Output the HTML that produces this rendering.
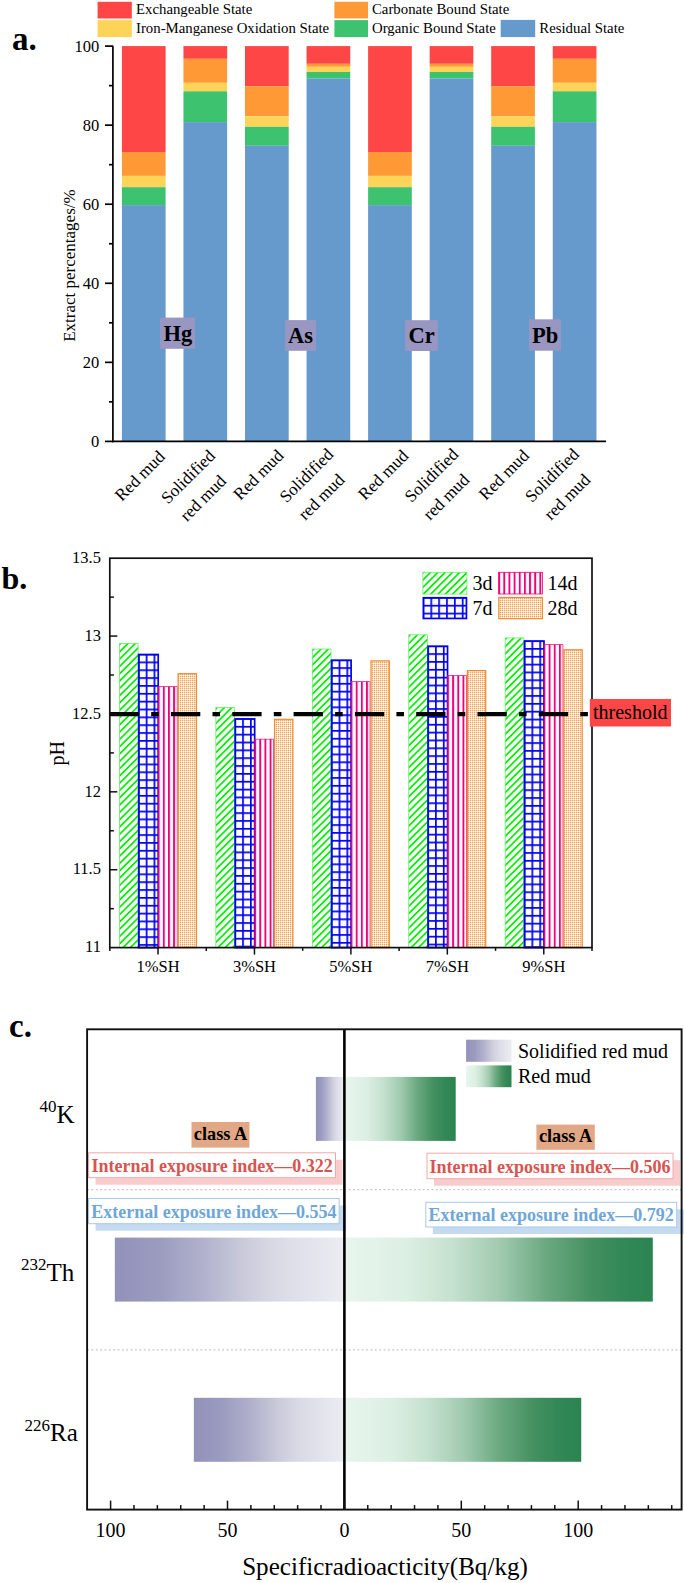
<!DOCTYPE html>
<html><head><meta charset="utf-8"><style>
html,body{margin:0;padding:0;background:#fff;}
svg{display:block;font-family:"Liberation Serif", serif;}
</style></head><body>
<svg width="685" height="1583" viewBox="0 0 685 1583" font-family='"Liberation Serif", serif'>
<rect width="685" height="1583" fill="#fff"/>
<defs>
<linearGradient id="gs" x1="0" x2="1" y1="0" y2="0"><stop offset="0" stop-color="#9292ba"/><stop offset="0.2" stop-color="#9c9cc0"/><stop offset="0.4" stop-color="#b3b3ce"/><stop offset="0.55" stop-color="#c9c9da"/><stop offset="0.7" stop-color="#dadae6"/><stop offset="1" stop-color="#ececf2"/></linearGradient>
<linearGradient id="gr" x1="0" x2="1" y1="0" y2="0"><stop offset="0" stop-color="#e8f6ee"/><stop offset="0.2" stop-color="#dcefe3"/><stop offset="0.35" stop-color="#c5e1cf"/><stop offset="0.5" stop-color="#a2cbb0"/><stop offset="0.65" stop-color="#6caa82"/><stop offset="0.8" stop-color="#44905f"/><stop offset="0.9" stop-color="#338857"/><stop offset="1" stop-color="#2a8450"/></linearGradient>
</defs>
<rect x="97.6" y="1.8" width="34.2" height="16.7" fill="#fe4646"/>
<rect x="97.6" y="20.1" width="34.2" height="17" fill="#fed458"/>
<rect x="334.4" y="1.8" width="33.6" height="16.6" fill="#fe9935"/>
<rect x="334.4" y="20.1" width="33.6" height="17" fill="#3dc370"/>
<rect x="500.7" y="19.9" width="34.5" height="17.2" fill="#6699cc"/>
<text x="136" y="14.4" font-size="14.8">Exchangeable State</text>
<text x="136" y="32.9" font-size="14.8">Iron-Manganese Oxidation State</text>
<text x="372" y="14.2" font-size="14.8">Carbonate Bound State</text>
<text x="372" y="32.9" font-size="14.8">Organic Bound State</text>
<text x="539.3" y="32.9" font-size="14.8">Residual State</text>
<text x="12" y="50.4" font-size="33" font-weight="bold">a.</text>
<rect x="121.90" y="46.10" width="43.7" height="105.90" fill="#fe4646"/>
<rect x="121.90" y="152.00" width="43.7" height="23.90" fill="#fe9935"/>
<rect x="121.90" y="175.90" width="43.7" height="11.30" fill="#fed458"/>
<rect x="121.90" y="187.20" width="43.7" height="17.90" fill="#3dc370"/>
<rect x="121.90" y="205.10" width="43.7" height="236.30" fill="#6699cc"/>
<rect x="183.45" y="46.10" width="43.7" height="12.70" fill="#fe4646"/>
<rect x="183.45" y="58.80" width="43.7" height="24.00" fill="#fe9935"/>
<rect x="183.45" y="82.80" width="43.7" height="8.50" fill="#fed458"/>
<rect x="183.45" y="91.30" width="43.7" height="30.80" fill="#3dc370"/>
<rect x="183.45" y="122.10" width="43.7" height="319.30" fill="#6699cc"/>
<rect x="245.00" y="46.10" width="43.7" height="40.10" fill="#fe4646"/>
<rect x="245.00" y="86.20" width="43.7" height="30.10" fill="#fe9935"/>
<rect x="245.00" y="116.30" width="43.7" height="10.50" fill="#fed458"/>
<rect x="245.00" y="126.80" width="43.7" height="19.00" fill="#3dc370"/>
<rect x="245.00" y="145.80" width="43.7" height="295.60" fill="#6699cc"/>
<rect x="306.55" y="46.10" width="43.7" height="17.70" fill="#fe4646"/>
<rect x="306.55" y="63.80" width="43.7" height="3.00" fill="#fe9935"/>
<rect x="306.55" y="66.80" width="43.7" height="5.20" fill="#fed458"/>
<rect x="306.55" y="72.00" width="43.7" height="6.50" fill="#3dc370"/>
<rect x="306.55" y="78.50" width="43.7" height="362.90" fill="#6699cc"/>
<rect x="368.10" y="46.10" width="43.7" height="105.90" fill="#fe4646"/>
<rect x="368.10" y="152.00" width="43.7" height="23.90" fill="#fe9935"/>
<rect x="368.10" y="175.90" width="43.7" height="11.30" fill="#fed458"/>
<rect x="368.10" y="187.20" width="43.7" height="17.90" fill="#3dc370"/>
<rect x="368.10" y="205.10" width="43.7" height="236.30" fill="#6699cc"/>
<rect x="429.65" y="46.10" width="43.7" height="17.70" fill="#fe4646"/>
<rect x="429.65" y="63.80" width="43.7" height="3.00" fill="#fe9935"/>
<rect x="429.65" y="66.80" width="43.7" height="5.20" fill="#fed458"/>
<rect x="429.65" y="72.00" width="43.7" height="6.50" fill="#3dc370"/>
<rect x="429.65" y="78.50" width="43.7" height="362.90" fill="#6699cc"/>
<rect x="491.20" y="46.10" width="43.7" height="40.10" fill="#fe4646"/>
<rect x="491.20" y="86.20" width="43.7" height="30.10" fill="#fe9935"/>
<rect x="491.20" y="116.30" width="43.7" height="10.50" fill="#fed458"/>
<rect x="491.20" y="126.80" width="43.7" height="19.00" fill="#3dc370"/>
<rect x="491.20" y="145.80" width="43.7" height="295.60" fill="#6699cc"/>
<rect x="552.75" y="46.10" width="43.7" height="12.70" fill="#fe4646"/>
<rect x="552.75" y="58.80" width="43.7" height="24.00" fill="#fe9935"/>
<rect x="552.75" y="82.80" width="43.7" height="8.50" fill="#fed458"/>
<rect x="552.75" y="91.30" width="43.7" height="30.80" fill="#3dc370"/>
<rect x="552.75" y="122.10" width="43.7" height="319.30" fill="#6699cc"/>
<g stroke="#000" stroke-width="1.7" fill="none">
<line x1="112.9" y1="45.7" x2="112.9" y2="442.25"/>
<line x1="112" y1="441.4" x2="606" y2="441.4"/>
<line x1="105" y1="441.40" x2="112.9" y2="441.40"/>
<line x1="109" y1="401.87" x2="112.9" y2="401.87"/>
<line x1="105" y1="362.34" x2="112.9" y2="362.34"/>
<line x1="109" y1="322.81" x2="112.9" y2="322.81"/>
<line x1="105" y1="283.28" x2="112.9" y2="283.28"/>
<line x1="109" y1="243.75" x2="112.9" y2="243.75"/>
<line x1="105" y1="204.22" x2="112.9" y2="204.22"/>
<line x1="109" y1="164.69" x2="112.9" y2="164.69"/>
<line x1="105" y1="125.16" x2="112.9" y2="125.16"/>
<line x1="109" y1="85.63" x2="112.9" y2="85.63"/>
<line x1="105" y1="46.10" x2="112.9" y2="46.10"/>
</g>
<text x="99.2" y="447.00" font-size="16.5" text-anchor="end">0</text>
<text x="99.2" y="367.94" font-size="16.5" text-anchor="end">20</text>
<text x="99.2" y="288.88" font-size="16.5" text-anchor="end">40</text>
<text x="99.2" y="209.82" font-size="16.5" text-anchor="end">60</text>
<text x="99.2" y="130.76" font-size="16.5" text-anchor="end">80</text>
<text x="99.2" y="51.70" font-size="16.5" text-anchor="end">100</text>
<text transform="translate(74.7,265.6) rotate(-90)" font-size="17" text-anchor="middle">Extract percentages/%</text>
<rect x="160.1" y="317.6" width="35.0" height="31.2" fill="#9997c1"/>
<text x="177.8" y="340.8" font-size="22.5" font-weight="bold" text-anchor="middle">Hg</text>
<rect x="285" y="320.1" width="30.9" height="30.7" fill="#9997c1"/>
<text x="300.6" y="342.8" font-size="22.5" font-weight="bold" text-anchor="middle">As</text>
<rect x="405.1" y="320.2" width="32.6" height="30.8" fill="#9997c1"/>
<text x="421.6" y="343.0" font-size="22.5" font-weight="bold" text-anchor="middle">Cr</text>
<rect x="529" y="319.3" width="31.9" height="31.4" fill="#9997c1"/>
<text x="545.2" y="342.7" font-size="22.5" font-weight="bold" text-anchor="middle">Pb</text>
<text transform="translate(143.8,479.9) rotate(-45)" font-size="17.2" text-anchor="middle">Red mud</text>
<text transform="translate(262.4,478.8) rotate(-45)" font-size="17.2" text-anchor="middle">Red mud</text>
<text transform="translate(387.2,479.0) rotate(-45)" font-size="17.2" text-anchor="middle">Red mud</text>
<text transform="translate(507.9,478.8) rotate(-45)" font-size="17.2" text-anchor="middle">Red mud</text>
<text transform="translate(192.0,480.9) rotate(-45)" font-size="17.2" text-anchor="middle">Solidified</text>
<text transform="translate(310.4,479.5) rotate(-45)" font-size="17.2" text-anchor="middle">Solidified</text>
<text transform="translate(435.4,479.4) rotate(-45)" font-size="17.2" text-anchor="middle">Solidified</text>
<text transform="translate(556.0,479.3) rotate(-45)" font-size="17.2" text-anchor="middle">Solidified</text>
<text transform="translate(207.0,502.2) rotate(-45)" font-size="17.2" text-anchor="middle">red mud</text>
<text transform="translate(325.4,501.0) rotate(-45)" font-size="17.2" text-anchor="middle">red mud</text>
<text transform="translate(450.2,501.0) rotate(-45)" font-size="17.2" text-anchor="middle">red mud</text>
<text transform="translate(571.2,501.0) rotate(-45)" font-size="17.2" text-anchor="middle">red mud</text>
<defs><pattern id="p1" patternUnits="userSpaceOnUse" x="119.01999999999998" y="643.9" width="5.16" height="5.16" patternTransform="rotate(45 119.01999999999998 643.9)"><rect width="5.16" height="5.16" fill="#fff"/><rect x="0" y="0" width="1.75" height="5.16" fill="#00f000"/></pattern></defs>
<rect x="119.42" y="643.30" width="18.70" height="304.30" fill="url(#p1)" stroke="#66ee66" stroke-width="0.8"/>
<defs><pattern id="p2" patternUnits="userSpaceOnUse" x="137.86999999999998" y="653.65" width="7.85" height="7.85"><rect width="7.85" height="7.85" fill="#fff"/><rect width="7.85" height="1.7" fill="#0000f0"/><rect width="1.7" height="7.85" fill="#0000f0"/></pattern></defs>
<rect x="138.72" y="654.5" width="19.50" height="293.10" fill="url(#p2)" stroke="#0000f0" stroke-width="1.7"/>
<defs><pattern id="p3" patternUnits="userSpaceOnUse" x="157.71999999999997" y="686.3" width="5.15" height="10"><rect width="5.15" height="10" fill="#fff"/><rect width="1.9" height="10" fill="#f0007a"/></pattern></defs>
<rect x="158.37" y="686.65" width="18.80" height="260.95" fill="url(#p3)" stroke="#f0007a" stroke-width="0.7"/>
<defs><pattern id="p4" patternUnits="userSpaceOnUse" x="0" y="0" width="2" height="2"><rect width="2" height="2" fill="#fffaf5"/><rect width="2" height="1" fill="#fbdcbc"/><rect width="1" height="2" fill="#fbdcbc"/><rect width="1" height="1" fill="#f0a050"/></pattern></defs>
<rect x="178.12" y="673.70" width="18.30" height="273.90" fill="url(#p4)" stroke="#f08a30" stroke-width="1.2"/>
<defs><pattern id="p5" patternUnits="userSpaceOnUse" x="215.45999999999998" y="708.0" width="5.16" height="5.16" patternTransform="rotate(45 215.45999999999998 708.0)"><rect width="5.16" height="5.16" fill="#fff"/><rect x="0" y="0" width="1.75" height="5.16" fill="#00f000"/></pattern></defs>
<rect x="215.86" y="707.40" width="18.70" height="240.20" fill="url(#p5)" stroke="#66ee66" stroke-width="0.8"/>
<defs><pattern id="p6" patternUnits="userSpaceOnUse" x="234.30999999999997" y="718.0500000000001" width="7.85" height="7.85"><rect width="7.85" height="7.85" fill="#fff"/><rect width="7.85" height="1.7" fill="#0000f0"/><rect width="1.7" height="7.85" fill="#0000f0"/></pattern></defs>
<rect x="235.16" y="718.9000000000001" width="19.50" height="228.70" fill="url(#p6)" stroke="#0000f0" stroke-width="1.7"/>
<defs><pattern id="p7" patternUnits="userSpaceOnUse" x="254.15999999999997" y="738.8" width="5.15" height="10"><rect width="5.15" height="10" fill="#fff"/><rect width="1.9" height="10" fill="#f0007a"/></pattern></defs>
<rect x="254.81" y="739.15" width="18.80" height="208.45" fill="url(#p7)" stroke="#f0007a" stroke-width="0.7"/>
<defs><pattern id="p8" patternUnits="userSpaceOnUse" x="0" y="0" width="2" height="2"><rect width="2" height="2" fill="#fffaf5"/><rect width="2" height="1" fill="#fbdcbc"/><rect width="1" height="2" fill="#fbdcbc"/><rect width="1" height="1" fill="#f0a050"/></pattern></defs>
<rect x="274.56" y="719.30" width="18.30" height="228.30" fill="url(#p8)" stroke="#f08a30" stroke-width="1.2"/>
<defs><pattern id="p9" patternUnits="userSpaceOnUse" x="311.9" y="649.6" width="5.16" height="5.16" patternTransform="rotate(45 311.9 649.6)"><rect width="5.16" height="5.16" fill="#fff"/><rect x="0" y="0" width="1.75" height="5.16" fill="#00f000"/></pattern></defs>
<rect x="312.30" y="649.00" width="18.70" height="298.60" fill="url(#p9)" stroke="#66ee66" stroke-width="0.8"/>
<defs><pattern id="p10" patternUnits="userSpaceOnUse" x="330.74999999999994" y="659.35" width="7.85" height="7.85"><rect width="7.85" height="7.85" fill="#fff"/><rect width="7.85" height="1.7" fill="#0000f0"/><rect width="1.7" height="7.85" fill="#0000f0"/></pattern></defs>
<rect x="331.60" y="660.2" width="19.50" height="287.40" fill="url(#p10)" stroke="#0000f0" stroke-width="1.7"/>
<defs><pattern id="p11" patternUnits="userSpaceOnUse" x="350.59999999999997" y="681.3" width="5.15" height="10"><rect width="5.15" height="10" fill="#fff"/><rect width="1.9" height="10" fill="#f0007a"/></pattern></defs>
<rect x="351.25" y="681.65" width="18.80" height="265.95" fill="url(#p11)" stroke="#f0007a" stroke-width="0.7"/>
<defs><pattern id="p12" patternUnits="userSpaceOnUse" x="0" y="0" width="2" height="2"><rect width="2" height="2" fill="#fffaf5"/><rect width="2" height="1" fill="#fbdcbc"/><rect width="1" height="2" fill="#fbdcbc"/><rect width="1" height="1" fill="#f0a050"/></pattern></defs>
<rect x="371.00" y="660.90" width="18.30" height="286.70" fill="url(#p12)" stroke="#f08a30" stroke-width="1.2"/>
<defs><pattern id="p13" patternUnits="userSpaceOnUse" x="408.34" y="635.4" width="5.16" height="5.16" patternTransform="rotate(45 408.34 635.4)"><rect width="5.16" height="5.16" fill="#fff"/><rect x="0" y="0" width="1.75" height="5.16" fill="#00f000"/></pattern></defs>
<rect x="408.74" y="634.80" width="18.70" height="312.80" fill="url(#p13)" stroke="#66ee66" stroke-width="0.8"/>
<defs><pattern id="p14" patternUnits="userSpaceOnUse" x="427.18999999999994" y="645.35" width="7.85" height="7.85"><rect width="7.85" height="7.85" fill="#fff"/><rect width="7.85" height="1.7" fill="#0000f0"/><rect width="1.7" height="7.85" fill="#0000f0"/></pattern></defs>
<rect x="428.04" y="646.2" width="19.50" height="301.40" fill="url(#p14)" stroke="#0000f0" stroke-width="1.7"/>
<defs><pattern id="p15" patternUnits="userSpaceOnUse" x="447.03999999999996" y="675.2" width="5.15" height="10"><rect width="5.15" height="10" fill="#fff"/><rect width="1.9" height="10" fill="#f0007a"/></pattern></defs>
<rect x="447.69" y="675.55" width="18.80" height="272.05" fill="url(#p15)" stroke="#f0007a" stroke-width="0.7"/>
<defs><pattern id="p16" patternUnits="userSpaceOnUse" x="0" y="0" width="2" height="2"><rect width="2" height="2" fill="#fffaf5"/><rect width="2" height="1" fill="#fbdcbc"/><rect width="1" height="2" fill="#fbdcbc"/><rect width="1" height="1" fill="#f0a050"/></pattern></defs>
<rect x="467.44" y="670.60" width="18.30" height="277.00" fill="url(#p16)" stroke="#f08a30" stroke-width="1.2"/>
<defs><pattern id="p17" patternUnits="userSpaceOnUse" x="504.78" y="638.5" width="5.16" height="5.16" patternTransform="rotate(45 504.78 638.5)"><rect width="5.16" height="5.16" fill="#fff"/><rect x="0" y="0" width="1.75" height="5.16" fill="#00f000"/></pattern></defs>
<rect x="505.18" y="637.90" width="18.70" height="309.70" fill="url(#p17)" stroke="#66ee66" stroke-width="0.8"/>
<defs><pattern id="p18" patternUnits="userSpaceOnUse" x="523.63" y="640.15" width="7.85" height="7.85"><rect width="7.85" height="7.85" fill="#fff"/><rect width="7.85" height="1.7" fill="#0000f0"/><rect width="1.7" height="7.85" fill="#0000f0"/></pattern></defs>
<rect x="524.48" y="641.0" width="19.50" height="306.60" fill="url(#p18)" stroke="#0000f0" stroke-width="1.7"/>
<defs><pattern id="p19" patternUnits="userSpaceOnUse" x="543.48" y="644.3" width="5.15" height="10"><rect width="5.15" height="10" fill="#fff"/><rect width="1.9" height="10" fill="#f0007a"/></pattern></defs>
<rect x="544.13" y="644.65" width="18.80" height="302.95" fill="url(#p19)" stroke="#f0007a" stroke-width="0.7"/>
<defs><pattern id="p20" patternUnits="userSpaceOnUse" x="0" y="0" width="2" height="2"><rect width="2" height="2" fill="#fffaf5"/><rect width="2" height="1" fill="#fbdcbc"/><rect width="1" height="2" fill="#fbdcbc"/><rect width="1" height="1" fill="#f0a050"/></pattern></defs>
<rect x="563.88" y="649.80" width="18.30" height="297.80" fill="url(#p20)" stroke="#f08a30" stroke-width="1.2"/>
<line x1="109.7" y1="714.2" x2="589" y2="714.2" stroke="#000" stroke-width="4.2" stroke-dasharray="29.3 12.2 7.6 12.2"/>
<rect x="109.8" y="558.2" width="482.2" height="389.4" fill="none" stroke="#111" stroke-width="1.7"/>
<g stroke="#111" stroke-width="1.5">
<line x1="109.8" y1="597.14" x2="113.9" y2="597.14"/>
<line x1="109.8" y1="636.08" x2="117.3" y2="636.08"/>
<line x1="109.8" y1="675.02" x2="113.9" y2="675.02"/>
<line x1="109.8" y1="713.96" x2="117.3" y2="713.96"/>
<line x1="109.8" y1="752.90" x2="113.9" y2="752.90"/>
<line x1="109.8" y1="791.84" x2="117.3" y2="791.84"/>
<line x1="109.8" y1="830.78" x2="113.9" y2="830.78"/>
<line x1="109.8" y1="869.72" x2="117.3" y2="869.72"/>
<line x1="109.8" y1="908.66" x2="113.9" y2="908.66"/>
<line x1="109.80" y1="947.6" x2="109.80" y2="950.9"/>
<line x1="158.02" y1="947.6" x2="158.02" y2="954.6"/>
<line x1="206.24" y1="947.6" x2="206.24" y2="950.9"/>
<line x1="254.46" y1="947.6" x2="254.46" y2="954.6"/>
<line x1="302.68" y1="947.6" x2="302.68" y2="950.9"/>
<line x1="350.90" y1="947.6" x2="350.90" y2="954.6"/>
<line x1="399.12" y1="947.6" x2="399.12" y2="950.9"/>
<line x1="447.34" y1="947.6" x2="447.34" y2="954.6"/>
<line x1="495.56" y1="947.6" x2="495.56" y2="950.9"/>
<line x1="543.78" y1="947.6" x2="543.78" y2="954.6"/>
<line x1="592.00" y1="947.6" x2="592.00" y2="950.9"/>
</g>
<rect x="589.8" y="699" width="81.2" height="27.5" fill="#fe4646"/>
<text x="593" y="719.2" font-size="20">threshold</text>
<text x="100.9" y="562.90" font-size="16.5" text-anchor="end">13.5</text>
<text x="100.9" y="640.78" font-size="16.5" text-anchor="end">13</text>
<text x="100.9" y="718.66" font-size="16.5" text-anchor="end">12.5</text>
<text x="100.9" y="796.54" font-size="16.5" text-anchor="end">12</text>
<text x="100.9" y="874.42" font-size="16.5" text-anchor="end">11.5</text>
<text x="100.9" y="952.30" font-size="16.5" text-anchor="end">11</text>
<text x="158.02" y="972.4" font-size="16.5" text-anchor="middle">1%SH</text>
<text x="254.46" y="972.4" font-size="16.5" text-anchor="middle">3%SH</text>
<text x="350.90" y="972.4" font-size="16.5" text-anchor="middle">5%SH</text>
<text x="447.34" y="972.4" font-size="16.5" text-anchor="middle">7%SH</text>
<text x="543.78" y="972.4" font-size="16.5" text-anchor="middle">9%SH</text>
<text transform="translate(64.3,753.4) rotate(-90)" font-size="20" text-anchor="middle">pH</text>
<text x="1.5" y="589.2" font-size="32" font-weight="bold">b.</text>
<defs><pattern id="p21" patternUnits="userSpaceOnUse" x="422.5" y="571.9" width="5.16" height="5.16" patternTransform="rotate(45 422.5 571.9)"><rect width="5.16" height="5.16" fill="#fff"/><rect x="0" y="0" width="1.75" height="5.16" fill="#00f000"/></pattern></defs>
<rect x="422.90" y="572.30" width="44.00" height="21.80" fill="url(#p21)" stroke="#66ee66" stroke-width="0.8"/>
<text x="472.4" y="589.8" font-size="20">3d</text>
<defs><pattern id="p22" patternUnits="userSpaceOnUse" x="422.54999999999995" y="596.9499999999999" width="7.85" height="7.85"><rect width="7.85" height="7.85" fill="#fff"/><rect width="7.85" height="1.7" fill="#0000f0"/><rect width="1.7" height="7.85" fill="#0000f0"/></pattern></defs>
<rect x="423.35" y="597.75" width="43.10" height="20.70" fill="url(#p22)" stroke="#0000f0" stroke-width="1.7"/>
<text x="472.4" y="614.8" font-size="20">7d</text>
<defs><pattern id="p23" patternUnits="userSpaceOnUse" x="498.2" y="571.9" width="5.15" height="10"><rect width="5.15" height="10" fill="#fff"/><rect width="1.9" height="10" fill="#f0007a"/></pattern></defs>
<rect x="498.60" y="572.30" width="44.00" height="21.70" fill="url(#p23)" stroke="#f0007a" stroke-width="0.8"/>
<text x="547.4" y="589.8" font-size="20">14d</text>
<defs><pattern id="p24" patternUnits="userSpaceOnUse" x="0" y="0" width="2" height="2"><rect width="2" height="2" fill="#fffaf5"/><rect width="2" height="1" fill="#fbdcbc"/><rect width="1" height="2" fill="#fbdcbc"/><rect width="1" height="1" fill="#f0a050"/></pattern></defs>
<rect x="498.80" y="597.50" width="43.60" height="21.20" fill="url(#p24)" stroke="#f08a30" stroke-width="1.2"/>
<text x="547.6" y="614.8" font-size="20">28d</text>
<line x1="87.1" y1="1189.6" x2="681.6" y2="1189.6" stroke="#c4c4c4" stroke-width="1.1" stroke-dasharray="1.8 2.56"/>
<line x1="87.1" y1="1349.9" x2="681.6" y2="1349.9" stroke="#c4c4c4" stroke-width="1.1" stroke-dasharray="1.8 2.56"/>
<rect x="315.88" y="1076.9" width="28.52" height="64" fill="url(#gs)"/>
<rect x="344.40" y="1076.9" width="111.29" height="64" fill="url(#gr)"/>
<rect x="114.81" y="1237.6" width="229.59" height="64" fill="url(#gs)"/>
<rect x="344.40" y="1237.6" width="308.38" height="64" fill="url(#gr)"/>
<rect x="193.83" y="1397.8" width="150.57" height="64" fill="url(#gs)"/>
<rect x="344.40" y="1397.8" width="236.84" height="64" fill="url(#gr)"/>
<rect x="95.6" y="1159.8" width="246.9" height="24.9" fill="#f8cccc"/>
<rect x="88.6" y="1152.8" width="246.9" height="24.9" fill="#fff" stroke="#f2a8a8" stroke-width="1"/>
<text x="212.1" y="1171.7" font-size="18" font-weight="bold" fill="#d9534f" text-anchor="middle">Internal exposure index—0.322</text>
<rect x="95.6" y="1205.5" width="250.5" height="25.2" fill="#c4daf0"/>
<rect x="88.6" y="1198.5" width="250.5" height="25.2" fill="#fff" stroke="#a9c9e8" stroke-width="1"/>
<text x="213.9" y="1217.7" font-size="18" font-weight="bold" fill="#6ea6d8" text-anchor="middle">External exposure index—0.554</text>
<rect x="434" y="1160.2" width="246.0" height="25.5" fill="#f8cccc"/>
<rect x="427" y="1153.2" width="246.0" height="25.5" fill="#fff" stroke="#f2a8a8" stroke-width="1"/>
<text x="550.0" y="1172.7" font-size="18" font-weight="bold" fill="#d9534f" text-anchor="middle">Internal exposure index—0.506</text>
<rect x="432.8" y="1209.3" width="250.9" height="24.7" fill="#c4daf0"/>
<rect x="425.8" y="1202.3" width="250.9" height="24.7" fill="#fff" stroke="#a9c9e8" stroke-width="1"/>
<text x="551.2" y="1221.0" font-size="18" font-weight="bold" fill="#6ea6d8" text-anchor="middle">External exposure index—0.792</text>
<rect x="191.5" y="1122" width="58.0" height="25.6" fill="#e2a886"/>
<text x="220.5" y="1140.1" font-size="18.3" font-weight="bold" text-anchor="middle">class A</text>
<rect x="536.4" y="1124.6" width="58.4" height="25.2" fill="#e2a886"/>
<text x="565.6" y="1142.3" font-size="18.3" font-weight="bold" text-anchor="middle">class A</text>
<line x1="344.4" y1="1029.3" x2="344.4" y2="1509.6" stroke="#000" stroke-width="2.6"/>
<rect x="87.1" y="1029.3" width="594.5" height="480.3" fill="none" stroke="#111" stroke-width="1.9"/>
<g stroke="#111" stroke-width="1.5">
<line x1="110.60" y1="1509.6" x2="110.60" y2="1500.6"/>
<line x1="133.98" y1="1509.6" x2="133.98" y2="1505.1"/>
<line x1="157.36" y1="1509.6" x2="157.36" y2="1505.1"/>
<line x1="180.74" y1="1509.6" x2="180.74" y2="1505.1"/>
<line x1="204.12" y1="1509.6" x2="204.12" y2="1505.1"/>
<line x1="227.50" y1="1509.6" x2="227.50" y2="1500.6"/>
<line x1="250.88" y1="1509.6" x2="250.88" y2="1505.1"/>
<line x1="274.26" y1="1509.6" x2="274.26" y2="1505.1"/>
<line x1="297.64" y1="1509.6" x2="297.64" y2="1505.1"/>
<line x1="321.02" y1="1509.6" x2="321.02" y2="1505.1"/>
<line x1="344.40" y1="1509.6" x2="344.40" y2="1500.6"/>
<line x1="367.78" y1="1509.6" x2="367.78" y2="1505.1"/>
<line x1="391.16" y1="1509.6" x2="391.16" y2="1505.1"/>
<line x1="414.54" y1="1509.6" x2="414.54" y2="1505.1"/>
<line x1="437.92" y1="1509.6" x2="437.92" y2="1505.1"/>
<line x1="461.30" y1="1509.6" x2="461.30" y2="1500.6"/>
<line x1="484.68" y1="1509.6" x2="484.68" y2="1505.1"/>
<line x1="508.06" y1="1509.6" x2="508.06" y2="1505.1"/>
<line x1="531.44" y1="1509.6" x2="531.44" y2="1505.1"/>
<line x1="554.82" y1="1509.6" x2="554.82" y2="1505.1"/>
<line x1="578.20" y1="1509.6" x2="578.20" y2="1500.6"/>
<line x1="601.58" y1="1509.6" x2="601.58" y2="1505.1"/>
<line x1="624.96" y1="1509.6" x2="624.96" y2="1505.1"/>
<line x1="648.34" y1="1509.6" x2="648.34" y2="1505.1"/>
<line x1="671.72" y1="1509.6" x2="671.72" y2="1505.1"/>
</g>
<text x="110.60" y="1537" font-size="20" text-anchor="middle">100</text>
<text x="227.50" y="1537" font-size="20" text-anchor="middle">50</text>
<text x="344.40" y="1537" font-size="20" text-anchor="middle">0</text>
<text x="461.30" y="1537" font-size="20" text-anchor="middle">50</text>
<text x="578.20" y="1537" font-size="20" text-anchor="middle">100</text>
<text x="385" y="1575.2" font-size="25.1" text-anchor="middle">Specificradioacticity(Bq/kg)</text>
<text x="9" y="1037" font-size="33" font-weight="bold">c.</text>
<rect x="466.1" y="1039.7" width="45.4" height="22.1" fill="url(#gs)"/>
<rect x="466.1" y="1065.4" width="45.4" height="21.8" fill="url(#gr)"/>
<text x="518" y="1057.6" font-size="20">Solidified red mud</text>
<text x="518" y="1082.6" font-size="20">Red mud</text>
<text x="39.4" y="1122.6" font-size="25"><tspan font-size="17" dy="-10.3">40</tspan><tspan dy="10.3">K</tspan></text>
<text x="21.0" y="1280.5" font-size="25"><tspan font-size="17" dy="-10.3">232</tspan><tspan dy="10.3">Th</tspan></text>
<text x="24.5" y="1441.2" font-size="25"><tspan font-size="17" dy="-10.3">226</tspan><tspan dy="10.3">Ra</tspan></text>
</svg></body></html>
